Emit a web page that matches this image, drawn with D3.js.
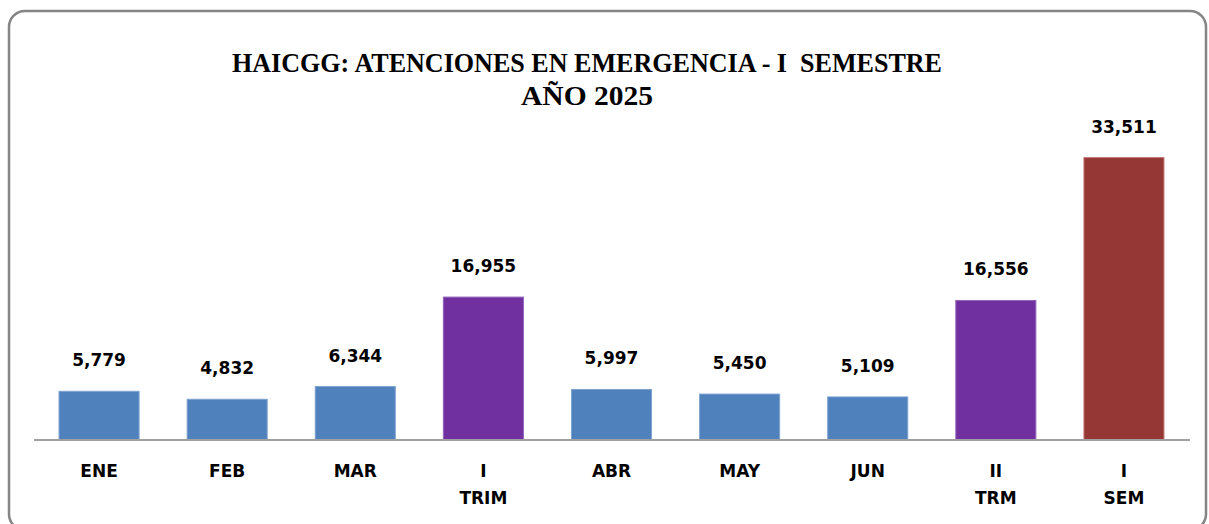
<!DOCTYPE html>
<html>
<head>
<meta charset="utf-8">
<script src="https://cdn.jsdelivr.net/npm/d3@7"></script>
<style>
  html, body { margin: 0; padding: 0; background: #fff; overflow: hidden; }
  #chart { width: 1209px; height: 524px; }
</style>
</head>
<body>
<div id="chart"></div>
<script>
// data
const categories = ['ENE', 'FEB', 'MAR', 'I|TRIM', 'ABR', 'MAY', 'JUN', 'II|TRM', 'I|SEM'];
const values = [5779, 4832, 6344, 16955, 5997, 5450, 5109, 16556, 33511];
const kinds = ['mes', 'mes', 'mes', 'trim', 'mes', 'mes', 'mes', 'trim', 'sem'];
const titleLines = ['HAICGG: ATENCIONES EN EMERGENCIA - I  SEMESTRE', 'AÑO 2025'];

const colors = { mes: '#4F81BD', trim: '#7030A0', sem: '#953735' };
const outline = { mes: '#7FA3D1', trim: '#9464BC', sem: '#C77C7A' };

const width = 1209, height = 524;
const data = categories.map((c, i) => ({ cat: c, value: values[i], kind: kinds[i] }));

const svg = d3.select('#chart')
  .append('svg')
    .attr('width', width)
    .attr('height', height);

// rounded frame (bottom runs past the picture)
svg.append('rect')
  .attr('x', 9).attr('y', 11)
  .attr('width', 1197).attr('height', 519)
  .attr('rx', 16).attr('ry', 16)
  .attr('fill', '#fff')
  .attr('stroke', '#858585')
  .attr('stroke-width', 2.5);

// title
svg.append('g')
  .selectAll('text')
  .data(titleLines)
  .enter()
  .append('text')
    .attr('x', 587)
    .attr('y', (d, i) => i === 0 ? 72 : 105)
    .attr('text-anchor', 'middle')
    .attr('textLength', (d, i) => i === 0 ? 710 : 132)
    .attr('lengthAdjust', 'spacingAndGlyphs')
    .style('white-space', 'pre')
    .style('font-family', '"Liberation Serif", "DejaVu Serif", serif')
    .style('font-weight', 'bold')
    .style('font-size', '27px')
    .style('fill', '#000')
    .text(d => d);

const x = d3.scaleBand()
  .domain(categories)
  .range([35, 1188])
  .paddingInner(0.375)
  .paddingOuter(0.1875);

const y = d3.scaleLinear()
  .domain([0, 35000])
  .range([440, 145]);

// bars
svg.append('g')
  .selectAll('rect')
  .data(data)
  .enter()
  .append('rect')
    .attr('x', d => x(d.cat))
    .attr('y', d => y(d.value))
    .attr('width', x.bandwidth())
    .attr('height', d => y(0) - y(d.value))
    .style('fill', d => colors[d.kind])
    .style('stroke', d => outline[d.kind])
    .style('stroke-width', 1);

// baseline
svg.append('line')
  .attr('x1', 34).attr('x2', 1190)
  .attr('y1', y(0)).attr('y2', y(0))
  .attr('stroke', '#a0a0a0')
  .attr('stroke-width', 2);

// value labels
const fmt = d3.format(',');
svg.append('g')
  .selectAll('text')
  .data(data)
  .enter()
  .append('text')
    .attr('x', d => x(d.cat) + x.bandwidth() / 2)
    .attr('y', d => y(d.value) - 25)
    .attr('text-anchor', 'middle')
    .style('font-family', '"DejaVu Sans", Verdana, sans-serif')
    .style('font-weight', 'bold')
    .style('font-size', '17px')
    .style('fill', '#000')
    .text(d => fmt(d.value));

// category labels
const cats = svg.append('g')
  .selectAll('text')
  .data(data)
  .enter()
  .append('text')
    .attr('text-anchor', 'middle')
    .style('font-family', '"DejaVu Sans", Verdana, sans-serif')
    .style('font-weight', 'bold')
    .style('font-size', '17px')
    .style('fill', '#000');

cats.selectAll('tspan')
  .data(d => d.cat.split('|').map(t => ({ t, cx: x(d.cat) + x.bandwidth() / 2 })))
  .enter()
  .append('tspan')
    .attr('x', d => d.cx)
    .attr('y', (d, i) => 477 + i * 27)
    .text(d => d.t);
</script>
</body>
</html>
